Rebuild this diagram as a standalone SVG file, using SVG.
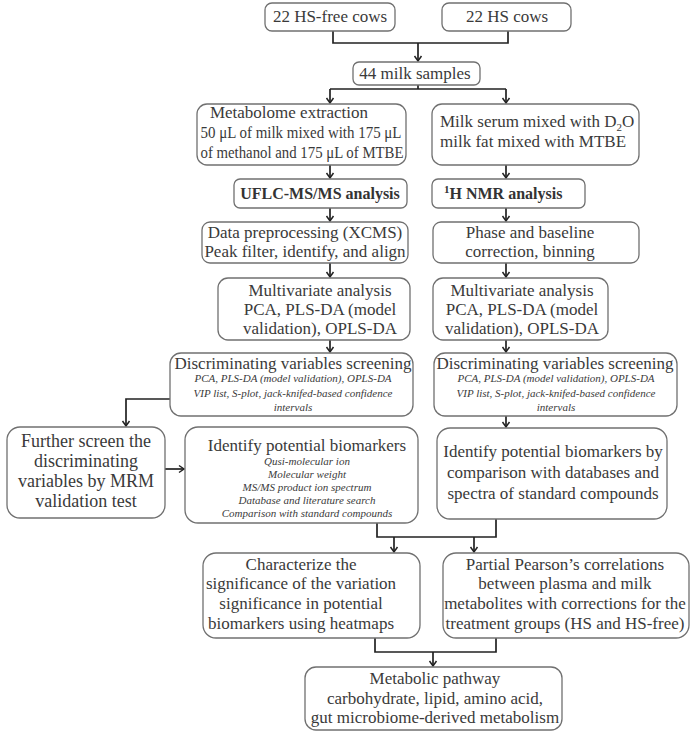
<svg xmlns="http://www.w3.org/2000/svg" width="697" height="737" viewBox="0 0 697 737">
<defs>
<marker id="ah" viewBox="-1 -5 8 10" refX="5" refY="0" markerWidth="8" markerHeight="10" markerUnits="userSpaceOnUse" orient="auto">
<path d="M0,-3.5 L5,0 L0,3.5" fill="none" stroke="#222" stroke-width="1.5"/>
</marker>
<style>
.box{fill:#fff;stroke:#707070;stroke-width:1.3}
.t{font-family:"Liberation Serif","Times New Roman",serif;font-size:17px;fill:#3a3a3a;text-anchor:middle}
.s{text-anchor:start}
.b{font-weight:bold;font-size:16px;fill:#333}
.it{font-style:italic;font-size:11px}
.lg{font-size:18px}
.c{fill:none;stroke:#222;stroke-width:1.7}
.a{marker-end:url(#ah)}
</style>
</defs>
<rect width="697" height="737" fill="#fff"/>

<g id="connectors">
<path class="c" d="M333,31 V43 H508 V31"/>
<path class="c a" d="M418,43 V61"/>
<path class="c" d="M418,85 V89 M330,89 H506"/>
<path class="c a" d="M330,89 V103"/>
<path class="c a" d="M506,89 V103"/>
<path class="c a" d="M330,165 V178"/>
<path class="c a" d="M506,165 V178"/>
<path class="c a" d="M330,208 V221"/>
<path class="c a" d="M506,208 V221"/>
<path class="c a" d="M330,263 V277"/>
<path class="c a" d="M506,263 V277"/>
<path class="c a" d="M330,340 V352"/>
<path class="c a" d="M506,340 V352"/>
<path class="c a" d="M506,416 V427"/>
<path class="c a" d="M170,399 H126 V426"/>
<path class="c a" d="M165,469 H184"/>
<path class="c" d="M377,523 V537 H496 V519"/>
<path class="c a" d="M394,537 V552"/>
<path class="c a" d="M474,537 V552"/>
<path class="c" d="M375,638 V652 H496 V638"/>
<path class="c a" d="M433,652 V666"/>
</g>

<g id="hsfree">
<rect class="box" x="265" y="3" width="130" height="28" rx="7"/>
<text class="t" x="330" y="22">22 HS-free cows</text>
</g>
<g id="hs">
<rect class="box" x="442" y="3" width="129" height="28" rx="7"/>
<text class="t" x="507" y="22">22 HS cows</text>
</g>
<g id="milk">
<rect class="box" x="353" y="62" width="127" height="23" rx="6"/>
<text class="t" x="415" y="79">44 milk samples</text>
</g>

<g id="extract">
<rect class="box" x="197" y="104" width="209" height="61" rx="10"/>
<text class="t" x="289" y="118">Metabolome extraction</text>
<text class="t" x="301" y="138" textLength="201" lengthAdjust="spacingAndGlyphs">50 μL of milk mixed with 175 μL</text>
<text class="t" x="302" y="158" textLength="203" lengthAdjust="spacingAndGlyphs">of methanol and 175 μL of MTBE</text>
</g>
<g id="serum">
<rect class="box" x="432" y="104" width="207" height="61" rx="10"/>
<text class="t s" x="440" y="127">Milk serum mixed with D<tspan font-size="11" dy="4">2</tspan><tspan dy="-4">O</tspan></text>
<text class="t s" x="440" y="147">milk fat mixed with MTBE</text>
</g>

<g id="uflc">
<rect class="box" x="234" y="179" width="173" height="29" rx="6"/>
<text class="t b" x="320" y="199">UFLC-MS/MS analysis</text>
</g>
<g id="nmr">
<rect class="box" x="432" y="179" width="153" height="29" rx="6"/>
<text class="t b s" x="444" y="199"><tspan font-size="11" dy="-6">1</tspan><tspan dy="6">H NMR analysis</tspan></text>
</g>

<g id="preproc">
<rect class="box" x="202" y="222" width="206" height="41" rx="8"/>
<text class="t" x="305" y="238">Data preprocessing (XCMS)</text>
<text class="t" x="305" y="257">Peak filter, identify, and align</text>
</g>
<g id="phase">
<rect class="box" x="433" y="222" width="206" height="41" rx="8"/>
<text class="t" x="530" y="238">Phase and baseline</text>
<text class="t" x="530" y="257">correction, binning</text>
</g>

<g id="mvaL">
<rect class="box" x="218" y="278" width="192" height="62" rx="10"/>
<text class="t" x="320" y="296">Multivariate analysis</text>
<text class="t" x="320" y="315">PCA, PLS-DA (model</text>
<text class="t" x="320" y="334">validation), OPLS-DA</text>
</g>
<g id="mvaR">
<rect class="box" x="433" y="278" width="175" height="62" rx="10"/>
<text class="t" x="522" y="296">Multivariate analysis</text>
<text class="t" x="522" y="315">PCA, PLS-DA (model</text>
<text class="t" x="522" y="334">validation), OPLS-DA</text>
</g>

<g id="discL">
<rect class="box" x="170" y="353" width="243" height="63" rx="11"/>
<text class="t" x="293" y="369">Discriminating variables screening</text>
<text class="t it" x="293" y="382">PCA, PLS-DA (model validation), OPLS-DA</text>
<text class="t it" x="293" y="397">VIP list, S-plot, jack-knifed-based confidence</text>
<text class="t it" x="293" y="411">intervals</text>
</g>
<g id="discR">
<rect class="box" x="434" y="353" width="243" height="63" rx="11"/>
<text class="t" x="555" y="369">Discriminating variables screening</text>
<text class="t it" x="556" y="382">PCA, PLS-DA (model validation), OPLS-DA</text>
<text class="t it" x="556" y="397">VIP list, S-plot, jack-knifed-based confidence</text>
<text class="t it" x="556" y="411">intervals</text>
</g>

<g id="mrm">
<rect class="box" x="7" y="427" width="158" height="91" rx="13"/>
<text class="t lg" x="86" y="447">Further screen the</text>
<text class="t lg" x="86" y="467">discriminating</text>
<text class="t lg" x="86" y="487">variables by MRM</text>
<text class="t lg" x="86" y="507">validation test</text>
</g>
<g id="idL">
<rect class="box" x="185" y="427" width="233" height="96" rx="13"/>
<text class="t" x="307" y="451">Identify potential biomarkers</text>
<text class="t it" x="307" y="465">Qusi-molecular ion</text>
<text class="t it" x="307" y="478">Molecular weight</text>
<text class="t it" x="307" y="491">MS/MS product ion spectrum</text>
<text class="t it" x="307" y="504">Database and literature search</text>
<text class="t it" x="307" y="517">Comparison with standard compounds</text>
</g>
<g id="idR">
<rect class="box" x="437" y="428" width="230" height="91" rx="13"/>
<text class="t" x="553" y="457">Identify potential biomarkers by</text>
<text class="t" x="553" y="478">comparison with databases and</text>
<text class="t" x="553" y="499">spectra of standard compounds</text>
</g>

<g id="heat">
<rect class="box" x="203" y="553" width="217" height="85" rx="13"/>
<text class="t" x="301" y="570">Characterize the</text>
<text class="t" x="301" y="589">significance of the variation</text>
<text class="t" x="301" y="609">significance in potential</text>
<text class="t" x="301" y="629">biomarkers using heatmaps</text>
</g>
<g id="pearson">
<rect class="box" x="443" y="553" width="246" height="85" rx="13"/>
<text class="t" x="565" y="570">Partial Pearson’s correlations</text>
<text class="t" x="565" y="589">between plasma and milk</text>
<text class="t" x="565" y="609">metabolites with corrections for the</text>
<text class="t" x="565" y="629">treatment groups (HS and HS-free)</text>
</g>

<g id="pathway">
<rect class="box" x="305" y="667" width="257" height="63" rx="11"/>
<text class="t" x="435" y="684">Metabolic pathway</text>
<text class="t" x="435" y="704">carbohydrate, lipid, amino acid,</text>
<text class="t" x="435" y="723">gut microbiome-derived metabolism</text>
</g>
</svg>
